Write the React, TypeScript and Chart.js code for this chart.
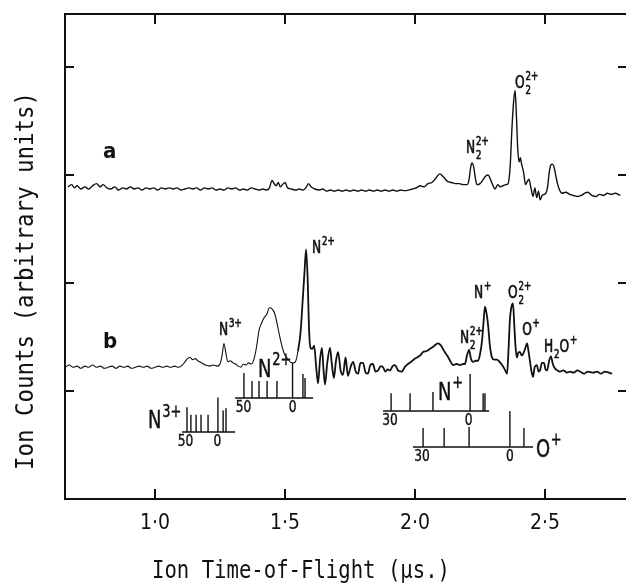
import React, { useEffect, useRef } from 'react';
import { Chart, registerables } from 'chart.js';
Chart.register(...registerables);

// ---- axis ----
const xTickValues = [1.0, 1.5, 2.0, 2.5];
const xTickLabels = ['1·0', '1·5', '2·0', '2·5'];
const yTickValues = [1, 2, 3, 4];
const xTitle = 'Ion Time-of-Flight (µs.)';
const yTitle = 'Ion Counts (arbitrary units)';

// ---- trace a ----
const traceATime = [
  0.665, 0.68, 0.69, 0.70, 0.715, 0.73, 0.745, 0.76, 0.775, 0.79, 0.80, 0.815, 0.83, 0.845, 0.86, 0.875, 0.89, 0.905, 0.92, 0.935,
  0.95, 0.965, 0.98, 0.995, 1.01, 1.025, 1.04, 1.055, 1.07, 1.085, 1.10, 1.115, 1.13, 1.145, 1.16, 1.175, 1.19, 1.205, 1.22, 1.235,
  1.25, 1.265, 1.28, 1.295, 1.31, 1.325, 1.34, 1.355, 1.37, 1.385, 1.40, 1.415, 1.43, 1.44, 1.45, 1.458, 1.466, 1.474, 1.482, 1.49,
  1.50, 1.51, 1.525, 1.54, 1.555, 1.57, 1.58, 1.59, 1.60, 1.615, 1.63, 1.645, 1.66, 1.675, 1.69, 1.705, 1.72, 1.735, 1.75, 1.765,
  1.78, 1.795, 1.81, 1.825, 1.84, 1.855, 1.87, 1.885, 1.90, 1.915, 1.93, 1.945, 1.96, 1.975, 1.99, 2.005, 2.02, 2.035, 2.05, 2.065,
  2.08, 2.095, 2.11, 2.125, 2.14, 2.155, 2.17, 2.185, 2.20, 2.208, 2.214, 2.219, 2.226, 2.232, 2.238, 2.25, 2.26, 2.272, 2.281, 2.29,
  2.30, 2.308, 2.318, 2.328, 2.338, 2.35, 2.358, 2.366, 2.373, 2.380, 2.385, 2.390, 2.395, 2.400, 2.405, 2.410, 2.418, 2.425, 2.432, 2.438,
  2.446, 2.454, 2.461, 2.468, 2.475, 2.481, 2.489, 2.496, 2.503, 2.510, 2.516, 2.522, 2.528, 2.535, 2.541, 2.548, 2.556, 2.565, 2.58, 2.595,
  2.61, 2.625, 2.64, 2.655, 2.665, 2.68, 2.695, 2.71, 2.725, 2.74, 2.755, 2.77, 2.79,
];
const traceACounts = [
  2.89, 2.91, 2.88, 2.90, 2.87, 2.89, 2.87, 2.90, 2.92, 2.89, 2.91, 2.88, 2.87, 2.89, 2.86, 2.88, 2.87, 2.89, 2.87, 2.88,
  2.86, 2.88, 2.87, 2.88, 2.86, 2.88, 2.87, 2.88, 2.87, 2.88, 2.86, 2.87, 2.88, 2.87, 2.88, 2.86, 2.88, 2.87, 2.88, 2.86,
  2.87, 2.86, 2.88, 2.87, 2.88, 2.86, 2.87, 2.86, 2.88, 2.87, 2.86, 2.87, 2.86, 2.88, 2.95, 2.92, 2.90, 2.93, 2.89, 2.91,
  2.93, 2.88, 2.87, 2.86, 2.87, 2.86, 2.88, 2.92, 2.89, 2.87, 2.86, 2.87, 2.85, 2.86, 2.85, 2.86, 2.85, 2.86, 2.85, 2.86,
  2.85, 2.86, 2.85, 2.86, 2.85, 2.86, 2.85, 2.86, 2.85, 2.86, 2.85, 2.86, 2.855, 2.86, 2.87, 2.88, 2.90, 2.89, 2.92, 2.93,
  2.97, 3.01, 2.98, 2.94, 2.93, 2.92, 2.92, 2.91, 2.91, 2.96, 3.07, 3.11, 3.07, 2.97, 2.91, 2.92, 2.95, 2.99, 3.00, 2.96,
  2.90, 2.87, 2.91, 2.89, 2.90, 2.91, 2.92, 3.08, 3.44, 3.70, 3.78, 3.55, 3.25, 3.12, 3.16, 3.10, 3.02, 2.91, 2.94, 2.96,
  2.88, 2.80, 2.88, 2.79, 2.85, 2.77, 2.81, 2.82, 2.83, 2.89, 3.02, 3.09, 3.10, 3.07, 3.00, 2.92, 2.86, 2.83, 2.84, 2.82,
  2.81, 2.80, 2.81, 2.835, 2.84, 2.81, 2.80, 2.82, 2.81, 2.83, 2.82, 2.83, 2.81,
];

// ---- trace b ----
const traceBTime = [
  0.655, 0.67, 0.685, 0.70, 0.715, 0.73, 0.745, 0.76, 0.775, 0.79, 0.805, 0.82, 0.835, 0.85, 0.865, 0.88, 0.895, 0.91, 0.925, 0.94,
  0.955, 0.97, 0.985, 1.00, 1.015, 1.03, 1.045, 1.06, 1.075, 1.09, 1.105, 1.115, 1.125, 1.135, 1.145, 1.155, 1.165, 1.18, 1.195, 1.21,
  1.225, 1.24, 1.25, 1.258, 1.265, 1.272, 1.28, 1.29, 1.30, 1.31, 1.32, 1.33, 1.34, 1.35, 1.36, 1.37, 1.38, 1.39, 1.40, 1.41,
  1.42, 1.43, 1.44, 1.45, 1.46, 1.47, 1.48, 1.49, 1.50, 1.51, 1.52, 1.53, 1.54, 1.55, 1.56, 1.568, 1.575, 1.581, 1.587, 1.592,
  1.598, 1.605, 1.612, 1.62, 1.627, 1.635, 1.642, 1.648, 1.654, 1.662, 1.673, 1.68, 1.688, 1.696, 1.704, 1.714, 1.723, 1.733, 1.742, 1.752,
  1.762, 1.772, 1.781, 1.790, 1.800, 1.81, 1.819, 1.828, 1.838, 1.848, 1.858, 1.868, 1.877, 1.886, 1.895, 1.904, 1.914, 1.923, 1.935, 1.950,
  1.96, 1.973, 1.985, 2.0, 2.008, 2.02, 2.031, 2.045, 2.058, 2.07, 2.08, 2.088, 2.10, 2.112, 2.123, 2.135, 2.146, 2.16, 2.173, 2.185,
  2.192, 2.2, 2.208, 2.215, 2.223, 2.235, 2.242, 2.25, 2.258, 2.264, 2.269, 2.275, 2.281, 2.288, 2.296, 2.305, 2.315, 2.325, 2.335, 2.345,
  2.354, 2.36, 2.365, 2.371, 2.377, 2.382, 2.387, 2.392, 2.398, 2.404, 2.41, 2.415, 2.422, 2.431, 2.437, 2.442, 2.448, 2.454, 2.46, 2.469,
  2.475, 2.481, 2.488, 2.496, 2.502, 2.508, 2.516, 2.523, 2.530, 2.538, 2.548, 2.558, 2.57, 2.585, 2.596, 2.61, 2.625, 2.635, 2.65, 2.665,
  2.685, 2.70, 2.715, 2.73, 2.745, 2.758,
];
const traceBCounts = [
  1.22, 1.24, 1.22, 1.23, 1.21, 1.23, 1.22, 1.24, 1.22, 1.23, 1.21, 1.22, 1.23, 1.21, 1.23, 1.22, 1.23, 1.21, 1.22, 1.23,
  1.22, 1.23, 1.21, 1.22, 1.23, 1.22, 1.23, 1.22, 1.23, 1.22, 1.24, 1.27, 1.30, 1.31, 1.29, 1.30, 1.28, 1.26, 1.24, 1.23,
  1.24, 1.23, 1.25, 1.33, 1.44, 1.36, 1.27, 1.28, 1.26, 1.25, 1.23, 1.22, 1.25, 1.24, 1.26, 1.25, 1.29, 1.40, 1.56, 1.63,
  1.68, 1.71, 1.77, 1.76, 1.72, 1.62, 1.50, 1.40, 1.33, 1.30, 1.27, 1.26, 1.27, 1.37, 1.55, 1.84, 2.10, 2.31, 2.05, 1.60,
  1.40, 1.39, 1.42, 1.22, 1.07, 1.30, 1.40, 1.20, 1.06, 1.25, 1.40, 1.25, 1.12, 1.28, 1.36, 1.19, 1.15, 1.31, 1.14, 1.22,
  1.27, 1.18, 1.16, 1.26, 1.26, 1.17, 1.16, 1.24, 1.25, 1.18, 1.19, 1.23, 1.22, 1.18, 1.20, 1.19, 1.23, 1.24, 1.19, 1.18,
  1.22, 1.25, 1.27, 1.30, 1.31, 1.33, 1.36, 1.37, 1.39, 1.41, 1.43, 1.44, 1.42, 1.37, 1.33, 1.28, 1.24, 1.25, 1.24, 1.25,
  1.25, 1.33, 1.38, 1.30, 1.27, 1.28, 1.28, 1.34, 1.47, 1.65, 1.78, 1.72, 1.61, 1.42, 1.31, 1.29, 1.29, 1.27, 1.24, 1.20,
  1.16, 1.40, 1.66, 1.78, 1.81, 1.60, 1.40, 1.31, 1.36, 1.36, 1.33, 1.34, 1.38, 1.44, 1.36, 1.28, 1.18, 1.13, 1.22, 1.24,
  1.18, 1.19, 1.26, 1.26, 1.20, 1.19, 1.28, 1.32, 1.25, 1.21, 1.19, 1.18, 1.19, 1.17, 1.18, 1.17, 1.19, 1.18, 1.16, 1.18,
  1.17, 1.18, 1.16, 1.18, 1.17, 1.16,
];

// ---- stick diagrams (kinetic energy release scales) ----
const n3Span = [1.104, 1.308];
const n3Base = 0.62;
const n3StickTimes = [1.123, 1.138, 1.158, 1.177, 1.204, 1.242, 1.262, 1.273];
const n3StickTops = [0.85, 0.78, 0.78, 0.78, 0.78, 0.94, 0.82, 0.84];
const n3ScaleTimes = [1.117, 1.240];
const n3ScaleLabels = ['50', '0'];

const n2Span = [1.308, 1.608];
const n2Base = 0.935;
const n2StickTimes = [1.342, 1.373, 1.400, 1.431, 1.469, 1.529, 1.569, 1.577];
const n2StickTops = [1.167, 1.093, 1.093, 1.093, 1.093, 1.259, 1.157, 1.12];
const n2ScaleTimes = [1.340, 1.529];
const n2ScaleLabels = ['50', '0'];

const n1Span = [1.877, 2.285];
const n1Base = 0.815;
const n1StickTimes = [1.908, 1.981, 2.069, 2.212, 2.262, 2.269];
const n1StickTops = [0.98, 0.98, 0.99, 1.157, 0.98, 0.98];
const n1ScaleTimes = [1.904, 2.206];
const n1ScaleLabels = ['30', '0'];

const o1Span = [1.992, 2.454];
const o1Base = 0.481;
const o1StickTimes = [2.031, 2.112, 2.208, 2.365, 2.419];
const o1StickTops = [0.657, 0.657, 0.667, 0.815, 0.657];
const o1ScaleTimes = [2.027, 2.365];
const o1ScaleLabels = ['30', '0'];

type Tok = [string, 'n' | 'b' | 'p'];
// peak labels: anchor (time, counts) = left edge / baseline of the label
const peakLabels: { t: number; v: number; toks: Tok[]; big?: boolean }[] = [
  { t: 2.196, v: 3.204, toks: [['N', 'n'], ['2', 'b'], ['2+', 'p']] },
  { t: 2.385, v: 3.806, toks: [['O', 'n'], ['2', 'b'], ['2+', 'p']] },
  { t: 1.604, v: 2.278, toks: [['N', 'n'], ['2+', 'p']] },
  { t: 1.246, v: 1.519, toks: [['N', 'n'], ['3+', 'p']] },
  { t: 2.227, v: 1.861, toks: [['N', 'n'], ['+', 'p']] },
  { t: 2.358, v: 1.861, toks: [['O', 'n'], ['2', 'b'], ['2+', 'p']] },
  { t: 2.173, v: 1.444, toks: [['N', 'n'], ['2', 'b'], ['2+', 'p']] },
  { t: 2.412, v: 1.519, toks: [['O', 'n'], ['+', 'p']] },
  { t: 2.496, v: 1.361, toks: [['H', 'n'], ['2', 'b'], ['O', 'n'], ['+', 'p']] },
  { t: 1.396, v: 1.130, toks: [['N', 'n'], ['2+', 'p']], big: true },
  { t: 0.973, v: 0.657, toks: [['N', 'n'], ['3+', 'p']], big: true },
  { t: 2.088, v: 0.917, toks: [['N', 'n'], ['+', 'p']], big: true },
  { t: 2.465, v: 0.389, toks: [['O', 'n'], ['+', 'p']], big: true },
];
const traceLetters = [
  { t: 0.800, v: 3.157, text: 'a' },
  { t: 0.800, v: 1.398, text: 'b' },
];

const LABEL_FONT = "'DejaVu Sans Condensed', 'DejaVu Sans', sans-serif";
const MONO_FONT = "'DejaVu Sans Mono', monospace";

function stickPoints(span: number[], base: number, times: number[], tops: number[]) {
  const pts: { x: number; y: number | null }[] = [
    { x: span[0], y: base },
    { x: span[1], y: base },
    { x: span[1], y: null },
  ];
  times.forEach((t, i) => {
    pts.push({ x: t, y: base }, { x: t, y: tops[i] }, { x: t, y: null });
  });
  return pts;
}

function drawChem(ctx: CanvasRenderingContext2D, x: number, y: number, toks: Tok[], size: number, sx: number) {
  ctx.save();
  ctx.translate(x, y);
  ctx.scale(sx, 1);
  ctx.textAlign = 'left';
  ctx.textBaseline = 'alphabetic';
  ctx.lineWidth = size > 20 ? 0.45 : 0.6;
  let cx = 0;
  const small = Math.round(size * 0.72);
  const put = (s: string, px: number, py: number) => {
    ctx.fillText(s, px, py);
    ctx.strokeText(s, px, py);
  };
  for (let i = 0; i < toks.length; i++) {
    const [s, k] = toks[i];
    if (k === 'n') {
      ctx.font = `${size}px ${LABEL_FONT}`;
      put(s, cx, 0);
      cx += ctx.measureText(s).width;
    } else {
      ctx.font = `${small}px ${LABEL_FONT}`;
      const w = ctx.measureText(s).width;
      put(s, cx + 1, k === 'b' ? size * 0.38 : -size * 0.46);
      const next = toks[i + 1];
      if (k === 'b' && next && next[1] === 'p') {
        put(next[0], cx + 1, -size * 0.46);
        cx += Math.max(w, ctx.measureText(next[0]).width) + 1;
        i++;
      } else {
        cx += w + 1;
      }
    }
  }
  ctx.restore();
}

function drawScaledText(ctx: CanvasRenderingContext2D, text: string, cx: number, cy: number, font: string, targetW: number, rot: number) {
  ctx.save();
  ctx.translate(cx, cy);
  ctx.rotate(rot);
  ctx.font = font;
  const w = ctx.measureText(text).width;
  ctx.scale(targetW / w, 1);
  ctx.textAlign = 'center';
  ctx.textBaseline = 'middle';
  ctx.fillText(text, 0, 0);
  ctx.restore();
}

const overlayPlugin = {
  id: 'overlay',
  afterDraw(chart: any) {
    const ctx: CanvasRenderingContext2D = chart.ctx;
    const { left, right, top, bottom } = chart.chartArea;
    const xs = chart.scales.x;
    const ys = chart.scales.y;
    ctx.save();
    ctx.strokeStyle = '#111';
    ctx.fillStyle = '#111';
    ctx.lineWidth = 2;
    // top frame line
    ctx.beginPath();
    ctx.moveTo(left - 1, top);
    ctx.lineTo(right, top);
    ctx.stroke();
    // inward x ticks (bottom and top)
    xTickValues.forEach((v) => {
      const px = Math.round(xs.getPixelForValue(v));
      ctx.beginPath();
      ctx.moveTo(px, bottom);
      ctx.lineTo(px, bottom - 10);
      ctx.moveTo(px, top);
      ctx.lineTo(px, top + 10);
      ctx.stroke();
    });
    // inward y ticks (left and right)
    yTickValues.forEach((v) => {
      const py = Math.round(ys.getPixelForValue(v));
      ctx.beginPath();
      ctx.moveTo(left, py);
      ctx.lineTo(left + 9, py);
      ctx.moveTo(right, py);
      ctx.lineTo(right - 8, py);
      ctx.stroke();
    });
    // axis titles
    drawScaledText(ctx, xTitle, 301, 572, `24px ${MONO_FONT}`, 298, 0);
    drawScaledText(ctx, yTitle, 27, 281, `24px ${MONO_FONT}`, 378, -Math.PI / 2);
    // trace letters
    traceLetters.forEach((l) => {
      ctx.font = `bold 22px ${LABEL_FONT}`;
      ctx.textAlign = 'left';
      ctx.textBaseline = 'alphabetic';
      ctx.fillText(l.text, xs.getPixelForValue(l.t), ys.getPixelForValue(l.v));
    });
    // peak labels
    ctx.strokeStyle = '#111';
    peakLabels.forEach((l) => {
      drawChem(ctx, xs.getPixelForValue(l.t), ys.getPixelForValue(l.v), l.toks, l.big ? 25 : 17, 0.8);
    });
    // stick scale numbers
    const scaleSets = [
      [n3ScaleTimes, n3ScaleLabels, n3Base],
      [n2ScaleTimes, n2ScaleLabels, n2Base],
      [n1ScaleTimes, n1ScaleLabels, n1Base],
      [o1ScaleTimes, o1ScaleLabels, o1Base],
    ] as [number[], string[], number][];
    scaleSets.forEach(([times, labels, base]) => {
      const py = ys.getPixelForValue(base);
      times.forEach((t, i) => {
        ctx.save();
        ctx.translate(xs.getPixelForValue(t), py + 2);
        ctx.scale(0.85, 1);
        ctx.font = `16px ${LABEL_FONT}`;
        ctx.textAlign = 'center';
        ctx.textBaseline = 'top';
        ctx.lineWidth = 0.4;
        ctx.fillText(labels[i], 0, 0);
        ctx.strokeText(labels[i], 0, 0);
        ctx.restore();
      });
    });
    ctx.restore();
  },
};

export default function App() {
  const ref = useRef<HTMLCanvasElement>(null);
  useEffect(() => {
    if (!ref.current) return;
    const toXY = (ts: number[], vs: number[]) => ts.map((t, i) => ({ x: t, y: vs[i] }));
    const stickStyle = {
      borderColor: '#111',
      borderWidth: 1.4,
      pointRadius: 0,
      tension: 0,
      spanGaps: false,
      fill: false,
    };
    const chart = new Chart(ref.current, {
      type: 'line',
      data: {
        datasets: [
          {
            label: 'a',
            data: toXY(traceATime, traceACounts),
            borderColor: '#111',
            borderWidth: 1.4,
            pointRadius: 0,
            cubicInterpolationMode: 'monotone',
            fill: false,
          },
          {
            label: 'b',
            data: toXY(traceBTime, traceBCounts),
            borderColor: '#111',
            borderWidth: 1.7,
            pointRadius: 0,
            cubicInterpolationMode: 'monotone',
            fill: false,
            segment: {
              borderWidth: (c: any) => (c.p0.parsed.x < 1.55 ? 1.1 : 1.8),
            },
          },
          { label: 'N3+ scale', data: stickPoints(n3Span, n3Base, n3StickTimes, n3StickTops), ...stickStyle },
          { label: 'N2+ scale', data: stickPoints(n2Span, n2Base, n2StickTimes, n2StickTops), ...stickStyle },
          { label: 'N+ scale', data: stickPoints(n1Span, n1Base, n1StickTimes, n1StickTops), ...stickStyle },
          { label: 'O+ scale', data: stickPoints(o1Span, o1Base, o1StickTimes, o1StickTops), ...stickStyle },
        ] as any,
      },
      options: {
        animation: false,
        responsive: false,
        devicePixelRatio: 1,
        layout: { padding: { top: 14, right: 0, left: 0, bottom: 0 } },
        plugins: { legend: { display: false }, tooltip: { enabled: false } },
        scales: {
          x: {
            type: 'linear',
            min: 0.6538,
            max: 2.8115,
            afterFit: (s: any) => { s.height = 89; },
            afterBuildTicks: (s: any) => { s.ticks = xTickValues.map((v) => ({ value: v })); },
            grid: { drawOnChartArea: false, drawTicks: false },
            border: { display: true, color: '#111', width: 2 },
            ticks: {
              padding: 12,
              color: '#111',
              font: { size: 21, family: LABEL_FONT },
              maxRotation: 0,
              callback: (v: any) => {
                const i = xTickValues.indexOf(Number(v));
                return i >= 0 ? xTickLabels[i] : '';
              },
            },
          },
          y: {
            type: 'linear',
            min: 0,
            max: 4.49,
            afterFit: (s: any) => { s.width = 65; },
            afterBuildTicks: (s: any) => { s.ticks = yTickValues.map((v) => ({ value: v })); },
            grid: { drawOnChartArea: false, drawTicks: false },
            border: { display: true, color: '#111', width: 2 },
            ticks: { display: false },
          },
        },
      } as any,
      plugins: [overlayPlugin],
    });
    return () => chart.destroy();
  }, []);
  return (
    <div style={{ position: 'absolute', left: 0, top: 0, width: 626, height: 588, background: '#fff' }}>
      <canvas ref={ref} width={626} height={588} style={{ display: 'block' }} />
    </div>
  );
}
